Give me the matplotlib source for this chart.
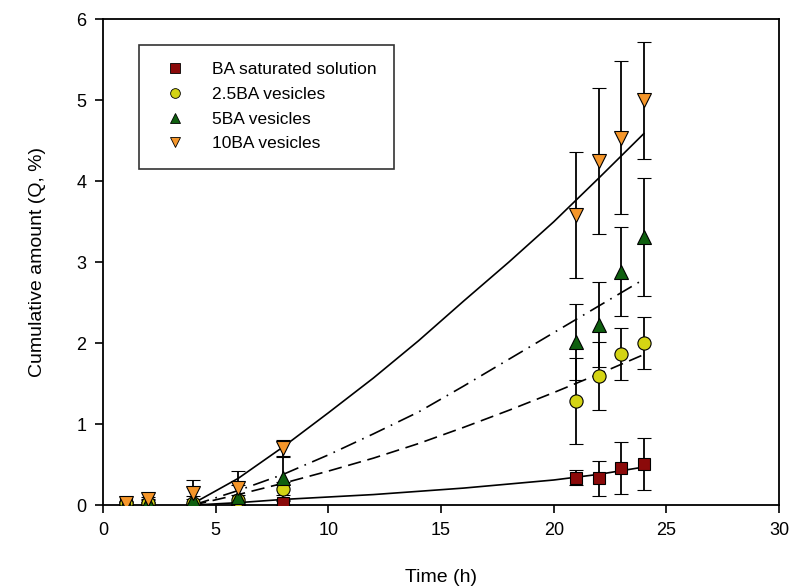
import numpy as np
import matplotlib.pyplot as plt
from matplotlib.lines import Line2D

# tiempos de muestreo (h)
tiempo = [1, 2, 4, 6, 8, 21, 22, 23, 24]

# valores medios
sat = [0.01, 0.0, 0.0, 0.01, 0.03, 0.34, 0.33, 0.46, 0.51]
sat_err = [0.02, 0.02, 0.02, 0.03, 0.03, 0.09, 0.22, 0.32, 0.32]

ves25 = [0.02, 0.03, 0.03, 0.06, 0.2, 1.29, 1.59, 1.87, 2.0]
ves25_err = [0.02, 0.03, 0.04, 0.06, 0.08, 0.53, 0.42, 0.32, 0.32]

ves5 = [0.02, 0.04, 0.06, 0.1, 0.33, 2.02, 2.23, 2.88, 3.31]
ves5_err = [0.02, 0.03, 0.05, 0.15, 0.28, 0.47, 0.52, 0.55, 0.73]

ves10 = [0.03, 0.07, 0.15, 0.21, 0.7, 3.58, 4.25, 4.54, 5.0]
ves10_err = [0.02, 0.03, 0.16, 0.21, 0.1, 0.78, 0.9, 0.94, 0.72]

# lineas de ajuste
t_ajuste = [4, 6, 8, 10, 12, 14, 16, 18, 20, 22, 24]
aj_sat = [0.0, 0.03, 0.07, 0.1, 0.13, 0.17, 0.21, 0.26, 0.31, 0.38, 0.47]
aj_25 = [0.0, 0.13, 0.27, 0.42, 0.58, 0.76, 0.96, 1.17, 1.39, 1.62, 1.86]
aj_5 = [0.0, 0.18, 0.38, 0.62, 0.88, 1.15, 1.47, 1.8, 2.13, 2.46, 2.79]
aj_10 = [0.02, 0.33, 0.72, 1.14, 1.57, 2.03, 2.52, 3.0, 3.5, 4.04, 4.59]

etiquetas = ['BA saturated solution', '2.5BA vesicles', '5BA vesicles', '10BA vesicles']

plt.rcParams['font.family'] = ['Liberation Sans', 'DejaVu Sans']

fig = plt.figure(figsize=(7.89, 5.88), dpi=100)
ax = fig.add_axes([0.1305, 0.141, 0.857, 0.826])

# dibujar lineas de ajuste
ax.plot(t_ajuste, aj_sat, color='black', lw=1.2, ls='-', zorder=2)
ax.plot(t_ajuste, aj_25, color='black', lw=1.2, ls=(0, (8, 4)), zorder=2)
ax.plot(t_ajuste, aj_5, color='black', lw=1.2, ls=(0, (10, 4, 1, 4)), zorder=2)
ax.plot(t_ajuste, aj_10, color='black', lw=1.2, ls='-', zorder=2)

# dibujar puntos con barras de error
series = [
    (sat, sat_err, 's', '#8b0a0a', 8.5),
    (ves25, ves25_err, 'o', '#d4d414', 9.5),
    (ves5, ves5_err, '^', '#0f5f0f', 9.5),
    (ves10, ves10_err, 'v', '#f5962a', 9.5),
]
handles = []
for (y, err, m, c, ms), lab in zip(series, etiquetas):
    ax.errorbar(tiempo, y, yerr=err, fmt=m, color='black', mfc=c, mec='black',
                mew=0.8, ms=ms, ecolor='black', elinewidth=1.3, capsize=5,
                capthick=1.3, zorder=3)
    handles.append(Line2D([], [], ls='none', marker=m, mfc=c, mec='black',
                          mew=0.6, ms=7, label=lab))

ax.set_xlim(0, 30)
ax.set_ylim(0, 6)
ax.set_xticks(np.arange(0, 31, 5))
ax.set_yticks(np.arange(0, 7, 1))
ax.tick_params(direction='out', length=6, width=1.2, labelsize=13, pad=6)
ax.tick_params(top=False, right=False)
for s in ax.spines.values():
    s.set_linewidth(1.3)

ax.set_xlabel('Time (h)', fontsize=14, labelpad=22)
ax.set_ylabel('Cumulative amount (Q, %)', fontsize=14, labelpad=22)

leg = ax.legend(handles=handles, loc='upper left', bbox_to_anchor=(0.053, 0.948),
                fontsize=12.5, frameon=True, fancybox=False, edgecolor='black',
                handletextpad=1.0, borderpad=1.0, labelspacing=0.55,
                handlelength=2.2, borderaxespad=0)
leg.get_frame().set_linewidth(1.2)

fig.savefig('out.png', dpi=100)
